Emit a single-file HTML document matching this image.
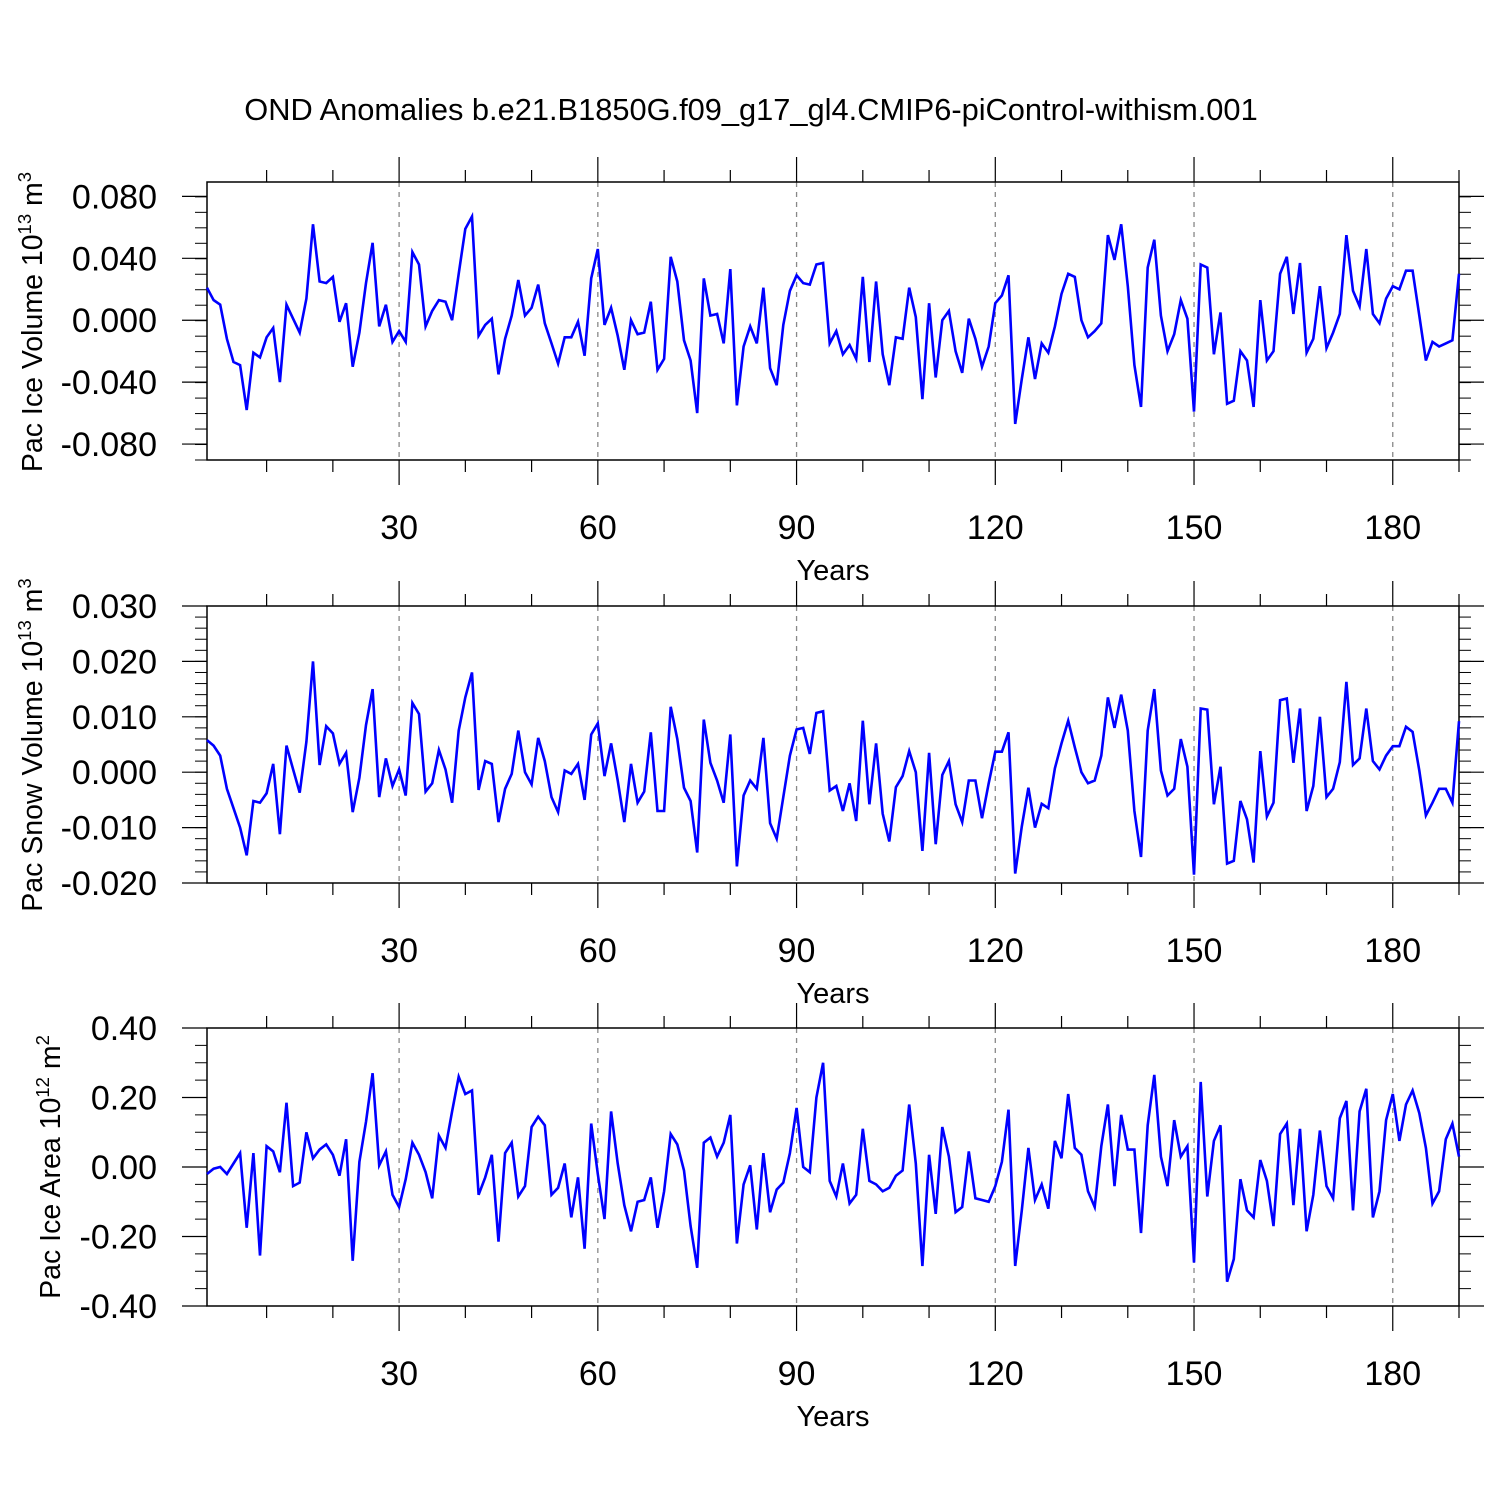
<!DOCTYPE html>
<html><head><meta charset="utf-8"><style>
html,body{margin:0;padding:0;background:#fff;}
svg{display:block;font-family:"Liberation Sans",Arial,sans-serif;}
</style></head><body>
<svg id="chart" width="1500" height="1500" viewBox="0 0 1500 1500" xmlns="http://www.w3.org/2000/svg">
<text x="751" y="120" font-size="30.8" text-anchor="middle">OND Anomalies b.e21.B1850G.f09_g17_gl4.CMIP6-piControl-withism.001</text>
</svg>
<script>
const years = Array.from({length:190},(_,i)=>i+1);
const xTicks = [30,60,90,120,150,180];
const iceVol = [0.021,0.013,0.010,-0.012,-0.027,-0.029,-0.058,-0.021,-0.024,-0.011,-0.005,-0.040,0.010,0.001,-0.008,0.014,0.062,0.025,0.024,0.028,-0.001,0.011,-0.030,-0.008,0.024,0.050,-0.004,0.010,-0.014,-0.007,-0.014,0.044,0.036,-0.004,0.006,0.013,0.012,0.000,0.030,0.059,0.067,-0.010,-0.003,0.001,-0.035,-0.012,0.003,0.026,0.003,0.008,0.023,-0.002,-0.015,-0.028,-0.011,-0.011,-0.001,-0.023,0.027,0.046,-0.003,0.008,-0.010,-0.032,0.000,-0.009,-0.008,0.012,-0.032,-0.025,0.041,0.025,-0.013,-0.026,-0.060,0.027,0.003,0.004,-0.015,0.033,-0.055,-0.017,-0.004,-0.015,0.021,-0.031,-0.042,-0.003,0.019,0.029,0.024,0.023,0.036,0.037,-0.015,-0.007,-0.022,-0.016,-0.025,0.028,-0.027,0.025,-0.022,-0.042,-0.011,-0.012,0.021,0.002,-0.051,0.011,-0.037,0.000,0.006,-0.020,-0.034,0.001,-0.012,-0.030,-0.017,0.011,0.016,0.029,-0.067,-0.038,-0.011,-0.038,-0.015,-0.021,-0.004,0.017,0.030,0.028,0.000,-0.011,-0.007,-0.002,0.055,0.039,0.062,0.022,-0.029,-0.056,0.034,0.052,0.003,-0.020,-0.009,0.013,0.001,-0.059,0.036,0.034,-0.022,0.005,-0.054,-0.052,-0.020,-0.026,-0.056,0.013,-0.026,-0.020,0.030,0.041,0.004,0.037,-0.021,-0.012,0.022,-0.018,-0.008,0.004,0.055,0.019,0.009,0.046,0.004,-0.002,0.014,0.022,0.020,0.032,0.032,0.003,-0.026,-0.014,-0.017,-0.015,-0.013,0.030];
const snowVol = [0.0058,0.0048,0.0030,-0.0030,-0.0065,-0.0100,-0.0150,-0.0052,-0.0055,-0.0038,0.0015,-0.0112,0.0048,0.0005,-0.0037,0.0055,0.0200,0.0013,0.0083,0.0070,0.0015,0.0035,-0.0072,-0.0010,0.0085,0.0150,-0.0045,0.0025,-0.0025,0.0005,-0.0042,0.0125,0.0105,-0.0035,-0.0020,0.0040,0.0005,-0.0055,0.0075,0.0135,0.0180,-0.0032,0.0020,0.0015,-0.0090,-0.0030,-0.0003,0.0075,0.0000,-0.0022,0.0062,0.0020,-0.0045,-0.0072,0.0003,-0.0003,0.0015,-0.0050,0.0068,0.0088,-0.0007,0.0052,-0.0015,-0.0090,0.0015,-0.0055,-0.0035,0.0072,-0.0070,-0.0070,0.0118,0.0060,-0.0028,-0.0052,-0.0145,0.0095,0.0017,-0.0015,-0.0055,0.0068,-0.0170,-0.0042,-0.0015,-0.0030,0.0062,-0.0092,-0.0120,-0.0045,0.0030,0.0077,0.0080,0.0033,0.0107,0.0110,-0.0033,-0.0025,-0.0070,-0.0020,-0.0088,0.0093,-0.0058,0.0052,-0.0075,-0.0125,-0.0027,-0.0007,0.0038,0.0000,-0.0142,0.0035,-0.0130,-0.0005,0.0020,-0.0058,-0.0090,-0.0015,-0.0015,-0.0083,-0.0020,0.0037,0.0037,0.0072,-0.0183,-0.0098,-0.0028,-0.0100,-0.0057,-0.0065,0.0007,0.0052,0.0093,0.0045,0.0000,-0.0020,-0.0015,0.0030,0.0135,0.0080,0.0140,0.0075,-0.0070,-0.0153,0.0075,0.0150,0.0003,-0.0042,-0.0030,0.0060,0.0010,-0.0185,0.0115,0.0113,-0.0058,0.0010,-0.0165,-0.0160,-0.0052,-0.0085,-0.0163,0.0038,-0.0080,-0.0055,0.0130,0.0133,0.0017,0.0115,-0.0070,-0.0025,0.0100,-0.0045,-0.0030,0.0018,0.0163,0.0013,0.0025,0.0115,0.0020,0.0005,0.0030,0.0047,0.0047,0.0082,0.0073,0.0003,-0.0078,-0.0055,-0.0030,-0.0030,-0.0055,0.0092];
const iceArea = [-0.02,-0.005,0.000,-0.020,0.010,0.040,-0.175,0.040,-0.255,0.060,0.045,-0.015,0.185,-0.055,-0.045,0.100,0.025,0.050,0.065,0.035,-0.025,0.080,-0.270,0.015,0.130,0.270,0.005,0.045,-0.080,-0.115,-0.035,0.070,0.035,-0.015,-0.090,0.090,0.055,0.160,0.260,0.210,0.220,-0.080,-0.030,0.035,-0.215,0.040,0.070,-0.085,-0.055,0.115,0.145,0.120,-0.080,-0.060,0.010,-0.145,-0.030,-0.235,0.125,-0.020,-0.150,0.160,0.010,-0.110,-0.185,-0.100,-0.095,-0.030,-0.175,-0.070,0.095,0.065,-0.010,-0.170,-0.290,0.070,0.085,0.030,0.070,0.150,-0.220,-0.050,0.005,-0.180,0.040,-0.130,-0.065,-0.045,0.040,0.170,0.000,-0.015,0.200,0.300,-0.040,-0.085,0.010,-0.105,-0.080,0.110,-0.040,-0.050,-0.070,-0.060,-0.025,-0.010,0.180,0.010,-0.285,0.035,-0.135,0.115,0.030,-0.130,-0.115,0.045,-0.090,-0.095,-0.100,-0.055,0.015,0.165,-0.285,-0.125,0.055,-0.095,-0.050,-0.120,0.075,0.025,0.210,0.055,0.035,-0.070,-0.115,0.060,0.180,-0.055,0.150,0.050,0.050,-0.190,0.120,0.265,0.030,-0.055,0.135,0.030,0.060,-0.275,0.245,-0.085,0.075,0.120,-0.330,-0.265,-0.035,-0.125,-0.145,0.020,-0.040,-0.170,0.095,0.125,-0.110,0.110,-0.185,-0.080,0.105,-0.055,-0.090,0.140,0.190,-0.125,0.160,0.225,-0.145,-0.070,0.135,0.210,0.075,0.180,0.220,0.155,0.055,-0.105,-0.070,0.080,0.125,0.030];
const iceVolTicks = [-0.08,-0.04,0,0.04,0.08];
const snowTicks = [-0.02,-0.01,0,0.01,0.02,0.03];
const areaTicks = [-0.4,-0.2,0,0.2,0.4];

const NS='http://www.w3.org/2000/svg';
const svg=document.getElementById('chart');
function mk(tag,attrs,parent){const e=document.createElementNS(NS,tag);for(const k in attrs)e.setAttribute(k,attrs[k]);(parent||svg).appendChild(e);return e;}
const X0=207,X1=1459,XMIN=1,XMAX=190;
function xs(v){return X0+(v-XMIN)/(XMAX-XMIN)*(X1-X0);}

function panel(key,top,bot,ymin,ymax,ticks,minorStep,dec,data,titleMain,titleSup,titleUnit,unitSup,titleX,titleY){
  const g=mk('g',{});
  
  
  const ys=v=>bot-(v-ymin)/(ymax-ymin)*(bot-top);
  xTicks.forEach(t=>{const l=mk('line',{x1:xs(t),x2:xs(t),y1:top,y2:bot,stroke:'#888','stroke-width':1.3,'stroke-dasharray':'5,5'},g);
    
    });
  for(let t=10;t<=190;t+=10){const major=t%30===0;const len=major?25:12;
    mk('line',{x1:xs(t),x2:xs(t),y1:top-len,y2:top,stroke:'#000','stroke-width':1.2},g);
    mk('line',{x1:xs(t),x2:xs(t),y1:bot,y2:bot+len,stroke:'#000','stroke-width':1.2},g);}
  xTicks.forEach(t=>{const tx=mk('text',{x:xs(t),y:bot+79,'font-size':34,'text-anchor':'middle'},g);tx.textContent=t;
    
    });
  const xl=mk('text',{x:833,y:bot+120,'font-size':29,'text-anchor':'middle'},g);xl.textContent='Years';
  
  
  for(let v=ymin;v<=ymax+1e-9;v+=minorStep){const y=ys(v);
    mk('line',{x1:X0-12,x2:X0,y1:y,y2:y,stroke:'#000','stroke-width':1},g);
    mk('line',{x1:X1,x2:X1+12,y1:y,y2:y,stroke:'#000','stroke-width':1},g);}
  ticks.forEach(t=>{const y=ys(t);
    mk('line',{x1:X0-25,x2:X0,y1:y,y2:y,stroke:'#000','stroke-width':1.2},g);
    mk('line',{x1:X1,x2:X1+25,y1:y,y2:y,stroke:'#000','stroke-width':1.2},g);
    const tx=mk('text',{x:157,y:y+12,'font-size':34,'text-anchor':'end'},g);tx.textContent=t.toFixed(dec);
    
    });
  const fr=mk('rect',{x:X0,y:top,width:X1-X0,height:bot-top,fill:'none',stroke:'#000','stroke-width':1.5},g);
  
  
  const pts=data.map((v,i)=>xs(years[i]).toFixed(1)+','+ys(v).toFixed(1)).join(' ');
  const pl=mk('polyline',{points:pts,fill:'none',stroke:'#0000ff','stroke-width':2.6,'stroke-linejoin':'miter'},g);
  
  
  const yt=mk('text',{x:0,y:0,'font-size':28.5,'text-anchor':'middle',transform:`translate(${titleX},${titleY}) rotate(-90)`},g);
  
  
  const s1=mk('tspan',{},yt);s1.textContent=titleMain;
  const s2=mk('tspan',{dy:-11,'font-size':18.5},yt);s2.textContent=titleSup;
  const s3=mk('tspan',{dy:11},yt);s3.textContent=titleUnit;
  const s4=mk('tspan',{dy:-11,'font-size':18.5},yt);s4.textContent=unitSup;
}
panel('ice-volume',182,460,-0.0903,0.0893,iceVolTicks,0.01,3,iceVol,'Pac Ice Volume 10','13',' m','3',42,322);
panel('snow-volume',606,883,-0.02,0.03,snowTicks,0.002,3,snowVol,'Pac Snow Volume 10','13',' m','3',42,745);
panel('ice-area',1028,1306,-0.4,0.4,areaTicks,0.05,2,iceArea,'Pac Ice Area 10','12',' m','2',60,1167);
</script>
</body></html>
